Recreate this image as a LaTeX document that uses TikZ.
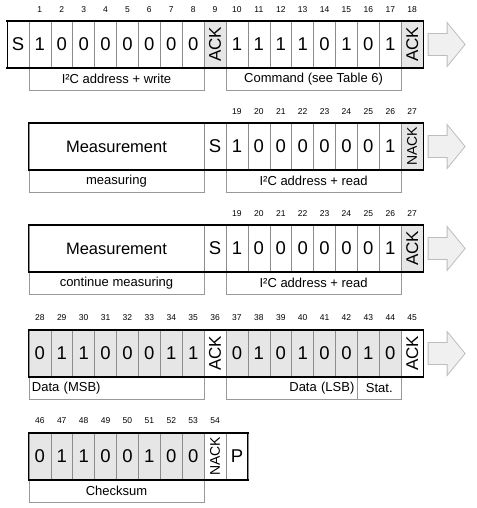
\documentclass[tikz,border=0pt]{standalone}
\usepackage{fontspec}
\setmainfont{Liberation Sans}
\usepackage{graphicx}
\definecolor{cellgray}{HTML}{8C8C8C}
\definecolor{labgray}{HTML}{999999}
\definecolor{fillgray}{HTML}{E6E6E6}
\definecolor{arrowline}{HTML}{BDBDBD}
\definecolor{arrowfill}{HTML}{F0F0F0}
\newcommand{\ackt}{\rotatebox{90}{\fontsize{17}{17}\selectfont ACK}}
\newcommand{\nackt}{\rotatebox{90}{\fontsize{14}{14}\selectfont NACK}}
\def\cw{21.9}
\begin{document}
\begin{tikzpicture}[x=1pt,y=1pt,
  cell/.style={draw=cellgray, line width=0.6pt, minimum width=\cw pt, minimum height=47pt,
    inner sep=0pt, outer sep=0pt, anchor=north west, font=\fontsize{18.5}{18.5}\selectfont},
  gcell/.style={cell, fill=fillgray},
  num/.style={inner sep=0pt, font=\fontsize{8.5}{8.5}\selectfont},
  lab/.style={draw=labgray, line width=0.7pt, minimum height=22.5pt, inner sep=3pt,
    outer sep=0pt, anchor=north west, font=\fontsize{13}{13}\selectfont},
  edge/.style={line width=1.6pt, line cap=rect},
  side/.style={line width=0.9pt},
  bigarrow/.style={draw=arrowline, fill=arrowfill, line width=0.8pt, line join=miter}]
\useasboundingbox (0,0) rectangle (476,-508);

% ---------------- Row 1 ----------------
\node[cell] (r1c0) at (7,-21) {S};
\foreach \b [count=\i] in {1,0,0,0,0,0,0,0}
  \node[cell] (r1c\i) at ({7+\cw*\i},-21) {\b};
\node[gcell] (r1c9) at ({7+\cw*9},-21) {\ackt};
\foreach \b [count=\i from 10] in {1,1,1,1,0,1,0,1}
  \node[cell] (r1c\i) at ({7+\cw*\i},-21) {\b};
\node[gcell] (r1c18) at ({7+\cw*18},-21) {\ackt};
\foreach \i in {1,...,18}
  \node[num] (n1c\i) at ({7+\cw*(\i+0.5)},-10) {\i};
\node[lab, minimum width={8*\cw pt}] (l1a) at (r1c1.south west) {I²C address + write};
\node[lab, minimum width={8*\cw pt}] (l1b) at (r1c10.south west) {Command (see Table 6)};
\draw[edge] (r1c0.north west) -- (r1c18.north east);
\draw[edge] (r1c0.south west) -- (r1c18.south east);
\draw[side] (r1c0.north west) -- (r1c0.south west);
\draw[side] (r1c18.north east) -- (r1c18.south east);
\coordinate (ar1) at ([xshift=5pt]r1c18.east);
\draw[bigarrow] ([yshift=11pt]ar1) -- ++(19,0) -- ++(0,11) -- ++(18,-22) -- ++(-18,-22) -- ++(0,11) -- ++(-19,0) -- cycle;

% ---------------- Row 2 ----------------
\node[cell, minimum width={8*\cw pt}, font=\fontsize{16.5}{16.5}\selectfont] (r2c1) at ({7+\cw},-123) {Measurement};
\node[cell] (r2c9) at ({7+\cw*9},-123) {S};
\foreach \b [count=\i from 10] in {1,0,0,0,0,0,0,1}
  \node[cell] (r2c\i) at ({7+\cw*\i},-123) {\b};
\node[gcell] (r2c18) at ({7+\cw*18},-123) {\nackt};
\foreach \i in {10,...,18}{
  \pgfmathtruncatemacro\n{\i+9}
  \node[num] (n2c\i) at ({7+\cw*(\i+0.5)},-112) {\n};}
\node[lab, minimum width={8*\cw pt}] (l2a) at (r2c1.south west) {measuring};
\node[lab, minimum width={8*\cw pt}] (l2b) at (r2c10.south west) {I²C address + read};
\draw[edge] (r2c1.north west) -- (r2c18.north east);
\draw[edge] (r2c1.south west) -- (r2c18.south east);
\draw[side] (r2c1.north west) -- (r2c1.south west);
\draw[side] (r2c18.north east) -- (r2c18.south east);
\coordinate (ar2) at ([xshift=5pt]r2c18.east);
\draw[bigarrow] ([yshift=11pt]ar2) -- ++(19,0) -- ++(0,11) -- ++(18,-22) -- ++(-18,-22) -- ++(0,11) -- ++(-19,0) -- cycle;

% ---------------- Row 3 ----------------
\node[cell, minimum width={8*\cw pt}, font=\fontsize{16.5}{16.5}\selectfont] (r3c1) at ({7+\cw},-225) {Measurement};
\node[cell] (r3c9) at ({7+\cw*9},-225) {S};
\foreach \b [count=\i from 10] in {1,0,0,0,0,0,0,1}
  \node[cell] (r3c\i) at ({7+\cw*\i},-225) {\b};
\node[gcell] (r3c18) at ({7+\cw*18},-225) {\ackt};
\foreach \i in {10,...,18}{
  \pgfmathtruncatemacro\n{\i+9}
  \node[num] (n3c\i) at ({7+\cw*(\i+0.5)},-214) {\n};}
\node[lab, minimum width={8*\cw pt}] (l3a) at (r3c1.south west) {continue measuring};
\node[lab, minimum width={8*\cw pt}] (l3b) at (r3c10.south west) {I²C address + read};
\draw[edge] (r3c1.north west) -- (r3c18.north east);
\draw[edge] (r3c1.south west) -- (r3c18.south east);
\draw[side] (r3c1.north west) -- (r3c1.south west);
\draw[side] (r3c18.north east) -- (r3c18.south east);
\coordinate (ar3) at ([xshift=5pt]r3c18.east);
\draw[bigarrow] ([yshift=11pt]ar3) -- ++(19,0) -- ++(0,11) -- ++(18,-22) -- ++(-18,-22) -- ++(0,11) -- ++(-19,0) -- cycle;

% ---------------- Row 4 ----------------
\foreach \b [count=\i] in {0,1,1,0,0,0,1,1}
  \node[gcell] (r4c\i) at ({7+\cw*\i},-330) {\b};
\node[cell] (r4c9) at ({7+\cw*9},-330) {\ackt};
\foreach \b [count=\i from 10] in {0,1,0,1,0,0,1,0}
  \node[gcell] (r4c\i) at ({7+\cw*\i},-330) {\b};
\node[cell] (r4c18) at ({7+\cw*18},-330) {\ackt};
\foreach \i in {1,...,18}{
  \pgfmathtruncatemacro\n{\i+27}
  \node[num] (n4c\i) at ({7+\cw*(\i+0.5)},-318) {\n};}
\node[lab, minimum width={8*\cw pt}, text width={8*\cw pt-6pt}, align=left] (l4a) at (r4c1.south west) {Data (MSB)};
\node[lab, minimum width={6*\cw pt}, text width={6*\cw pt-6pt}, align=right] (l4b) at (r4c10.south west) {Data (LSB)};
\node[lab, minimum width={2*\cw pt}] (l4c) at (r4c16.south west) {Stat.};
\draw[edge] (r4c1.north west) -- (r4c18.north east);
\draw[edge] (r4c1.south west) -- (r4c18.south east);
\draw[side] (r4c1.north west) -- (r4c1.south west);
\draw[side] (r4c18.north east) -- (r4c18.south east);
\coordinate (ar4) at ([xshift=5pt]r4c18.east);
\draw[bigarrow] ([yshift=11pt]ar4) -- ++(19,0) -- ++(0,11) -- ++(18,-22) -- ++(-18,-22) -- ++(0,11) -- ++(-19,0) -- cycle;

% ---------------- Row 5 ----------------
\foreach \b [count=\i] in {0,1,1,0,0,1,0,0}
  \node[gcell] (r5c\i) at ({7+\cw*\i},-433) {\b};
\node[cell] (r5c9) at ({7+\cw*9},-433) {\nackt};
\node[cell] (r5c10) at ({7+\cw*10},-433) {P};
\foreach \i in {1,...,9}{
  \pgfmathtruncatemacro\n{\i+45}
  \node[num] (n5c\i) at ({7+\cw*(\i+0.5)},-421) {\n};}
\node[lab, minimum width={8*\cw pt}] (l5a) at (r5c1.south west) {Checksum};
\draw[edge] (r5c1.north west) -- (r5c10.north east);
\draw[edge] (r5c1.south west) -- (r5c10.south east);
\draw[side] (r5c1.north west) -- (r5c1.south west);
\draw[side] (r5c10.north east) -- (r5c10.south east);
\end{tikzpicture}
\end{document}
